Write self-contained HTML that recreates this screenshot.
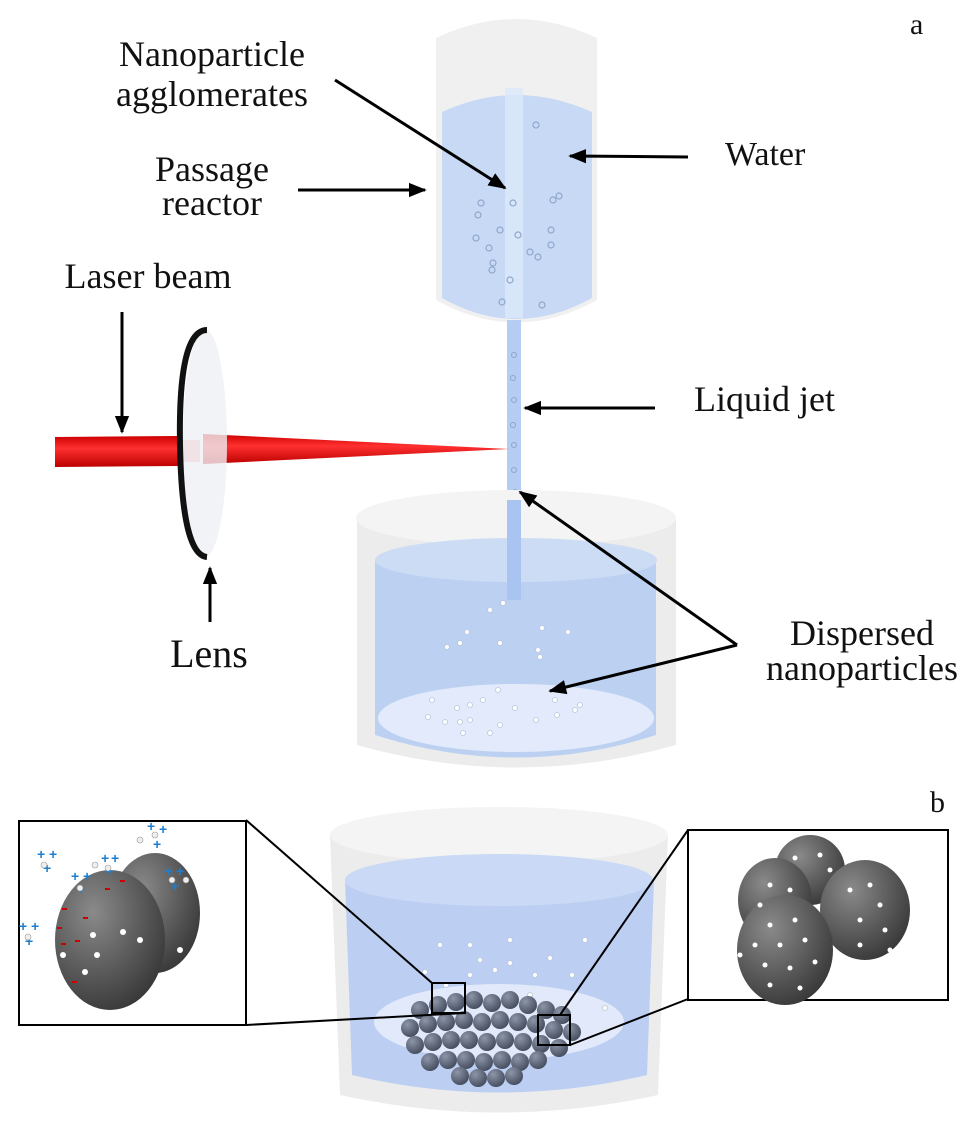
<!DOCTYPE html>
<html><head><meta charset="utf-8"><style>
html,body{margin:0;padding:0;background:#fff;width:980px;height:1124px;overflow:hidden}
svg text{font-family:"Liberation Serif",serif;fill:#111}
svg text.pl{fill:#1e7fd0;font-family:"Liberation Sans",sans-serif;font-size:14px;font-weight:bold}
</style></head><body>
<svg width="980" height="1124" viewBox="0 0 980 1124" xmlns="http://www.w3.org/2000/svg">
<defs>
<marker id="ah" viewBox="0 0 10 10" refX="9" refY="5" markerWidth="6" markerHeight="6" orient="auto"><path d="M0,1 L10,5 L0,9 Z" fill="#000"/></marker>
<linearGradient id="red" x1="0" y1="0" x2="0" y2="1"><stop offset="0" stop-color="#c00"/><stop offset="0.4" stop-color="#ff3030"/><stop offset="1" stop-color="#b00"/></linearGradient>
<radialGradient id="sph" cx="0.35" cy="0.3" r="0.8"><stop offset="0" stop-color="#8a8a8a"/><stop offset="1" stop-color="#333"/></radialGradient>
<radialGradient id="bsph" cx="0.35" cy="0.3" r="0.8"><stop offset="0" stop-color="#8d96a8"/><stop offset="1" stop-color="#3e4658"/></radialGradient>
</defs>

<!-- Reactor -->
<path d="M436,38 Q516,0 597,38 L597,300 Q516,345 436,300 Z" fill="#f0f0f0"/>
<path d="M442,112 Q516,78 592,112 L592,298 Q516,340 442,298 Z" fill="#c8d9f5"/>
<rect x="505" y="88" width="18" height="230" fill="#dce8fa" opacity="0.8"/>
<g fill="none" stroke="#8fa6cc" stroke-width="1.2">
<circle cx="536" cy="125" r="3"/><circle cx="481" cy="203" r="3"/><circle cx="478" cy="215" r="3"/><circle cx="513" cy="203" r="3"/><circle cx="553" cy="200" r="3"/><circle cx="559" cy="196" r="3"/><circle cx="500" cy="230" r="3"/><circle cx="476" cy="238" r="3"/><circle cx="489" cy="248" r="3"/><circle cx="551" cy="230" r="3"/><circle cx="551" cy="245" r="3"/><circle cx="530" cy="252" r="3"/><circle cx="538" cy="257" r="3"/><circle cx="493" cy="263" r="3"/><circle cx="492" cy="270" r="3"/><circle cx="510" cy="280" r="3"/><circle cx="502" cy="302" r="3"/><circle cx="542" cy="305" r="3"/><circle cx="518" cy="235" r="3"/>
</g>
<!-- jet -->
<rect x="507" y="320" width="14" height="280" fill="#b5cdf3"/>
<g fill="none" stroke="#8fa6cc" stroke-width="1"><circle cx="514" cy="355" r="2.5"/><circle cx="513" cy="378" r="2.5"/><circle cx="514" cy="400" r="2.5"/><circle cx="513" cy="425" r="2.5"/><circle cx="514" cy="445" r="2.5"/><circle cx="514" cy="470" r="2.5"/><circle cx="515" cy="492" r="2.5"/><circle cx="515" cy="520" r="2.5"/></g>

<!-- Beaker a -->
<path d="M357,520 L357,745 Q516,790 676,745 L676,520 Z" fill="#ececec"/>
<ellipse cx="516" cy="518" rx="160" ry="28" fill="#f4f4f4"/>
<path d="M375,560 L375,735 Q516,780 656,735 L656,560 Z" fill="#bcd1f2"/>
<ellipse cx="516" cy="560" rx="141" ry="22" fill="#cddcf5"/>
<ellipse cx="516" cy="718" rx="138" ry="34" fill="#e2eafb"/>
<rect x="507" y="500" width="14" height="100" fill="#a9c4f0"/>
<g fill="#fff" stroke="#b9c6dc" stroke-width="0.8">
<circle cx="503" cy="603" r="2.5"/><circle cx="490" cy="610" r="2.5"/><circle cx="467" cy="632" r="2.5"/><circle cx="447" cy="647" r="2.5"/><circle cx="460" cy="643" r="2.5"/><circle cx="500" cy="643" r="2.5"/><circle cx="538" cy="650" r="2.5"/><circle cx="568" cy="632" r="2.5"/><circle cx="542" cy="628" r="2.5"/><circle cx="540" cy="657" r="2.5"/><circle cx="432" cy="700" r="2.5"/><circle cx="457" cy="708" r="2.5"/><circle cx="470" cy="705" r="2.5"/><circle cx="483" cy="700" r="2.5"/><circle cx="498" cy="690" r="2.5"/><circle cx="515" cy="708" r="2.5"/><circle cx="555" cy="700" r="2.5"/><circle cx="575" cy="710" r="2.5"/><circle cx="428" cy="717" r="2.5"/><circle cx="445" cy="722" r="2.5"/><circle cx="460" cy="722" r="2.5"/><circle cx="470" cy="720" r="2.5"/><circle cx="500" cy="725" r="2.5"/><circle cx="536" cy="720" r="2.5"/><circle cx="557" cy="715" r="2.5"/><circle cx="580" cy="705" r="2.5"/><circle cx="490" cy="733" r="2.5"/><circle cx="463" cy="733" r="2.5"/>
</g>

<!-- Laser -->
<path d="M55,437 L178,436 L178,466 L55,467 Z" fill="url(#red)"/>
<path d="M180,440 L200,440 L200,462 L180,462 Z" fill="#ff7070" opacity="0.6"/>
<path d="M203,434 L510,449 L203,464 Z" fill="url(#red)"/>
<!-- Lens -->
<ellipse cx="205" cy="443" rx="22" ry="114" fill="#eef0f4" opacity="0.8"/>
<path d="M207,330 Q178,330 180,445 Q182,555 207,557" fill="none" stroke="#111" stroke-width="6"/>

<!-- Labels a -->
<text x="910" y="34" font-size="30">a</text>
<text x="212" y="66" font-size="36" text-anchor="middle">Nanoparticle</text>
<text x="212" y="106" font-size="36" text-anchor="middle">agglomerates</text>
<text x="212" y="181" font-size="36" text-anchor="middle">Passage</text>
<text x="212" y="215" font-size="36" text-anchor="middle">reactor</text>
<text x="725" y="165" font-size="34">Water</text>
<text x="148" y="288" font-size="36" text-anchor="middle">Laser beam</text>
<text x="694" y="411" font-size="36">Liquid jet</text>
<text x="209" y="667" font-size="40" text-anchor="middle">Lens</text>
<text x="862" y="645" font-size="36" text-anchor="middle">Dispersed</text>
<text x="862" y="680" font-size="36" text-anchor="middle">nanoparticles</text>

<g stroke="#000" stroke-width="3" marker-end="url(#ah)" fill="none">
<line x1="335" y1="80" x2="505" y2="188"/>
<line x1="298" y1="190" x2="425" y2="190"/>
<line x1="688" y1="157" x2="570" y2="156"/>
<line x1="122" y1="312" x2="122" y2="432"/>
<line x1="655" y1="408" x2="525" y2="408"/>
<line x1="210" y1="622" x2="210" y2="568"/>
<line x1="737" y1="645" x2="520" y2="492"/>
<line x1="737" y1="645" x2="550" y2="691"/>
</g>

<!-- Part b -->
<text x="930" y="812" font-size="30">b</text>
<path d="M330,835 L340,1095 Q500,1130 658,1095 L668,835 Z" fill="#ececec"/>
<ellipse cx="499" cy="835" rx="169" ry="28" fill="#f4f4f4"/>
<path d="M345,880 L352,1075 Q500,1110 647,1075 L654,880 Z" fill="#bccff2"/>
<ellipse cx="499" cy="880" rx="154" ry="26" fill="#cad9f5"/>
<ellipse cx="499" cy="1022" rx="125" ry="38" fill="#e1e9fa"/>
<g fill="#fff" stroke="#b9c6dc" stroke-width="0.8">
<circle cx="440" cy="945" r="2.5"/><circle cx="470" cy="945" r="2.5"/><circle cx="510" cy="940" r="2.5"/><circle cx="480" cy="960" r="2.5"/><circle cx="510" cy="963" r="2.5"/><circle cx="550" cy="958" r="2.5"/><circle cx="425" cy="972" r="2.5"/><circle cx="470" cy="975" r="2.5"/><circle cx="495" cy="970" r="2.5"/><circle cx="535" cy="975" r="2.5"/><circle cx="572" cy="975" r="2.5"/><circle cx="585" cy="940" r="2.5"/><circle cx="446" cy="985" r="2.5"/><circle cx="530" cy="995" r="2.5"/><circle cx="605" cy="1008" r="2.5"/>
</g>
<g fill="url(#bsph)">
<circle cx="420" cy="1010" r="9"/><circle cx="438" cy="1005" r="9"/><circle cx="456" cy="1002" r="9"/><circle cx="474" cy="1000" r="9"/><circle cx="492" cy="1003" r="9"/><circle cx="510" cy="1000" r="9"/><circle cx="528" cy="1005" r="9"/><circle cx="546" cy="1010" r="9"/><circle cx="562" cy="1015" r="9"/>
<circle cx="410" cy="1028" r="9"/><circle cx="428" cy="1024" r="9"/><circle cx="446" cy="1022" r="9"/><circle cx="464" cy="1020" r="9"/><circle cx="482" cy="1022" r="9"/><circle cx="500" cy="1020" r="9"/><circle cx="518" cy="1022" r="9"/><circle cx="536" cy="1024" r="9"/><circle cx="554" cy="1030" r="9"/><circle cx="572" cy="1032" r="9"/>
<circle cx="415" cy="1045" r="9"/><circle cx="433" cy="1042" r="9"/><circle cx="451" cy="1040" r="9"/><circle cx="469" cy="1040" r="9"/><circle cx="487" cy="1042" r="9"/><circle cx="505" cy="1040" r="9"/><circle cx="523" cy="1042" r="9"/><circle cx="541" cy="1044" r="9"/><circle cx="559" cy="1048" r="9"/>
<circle cx="430" cy="1062" r="9"/><circle cx="448" cy="1060" r="9"/><circle cx="466" cy="1060" r="9"/><circle cx="484" cy="1062" r="9"/><circle cx="502" cy="1060" r="9"/><circle cx="520" cy="1062" r="9"/><circle cx="538" cy="1060" r="9"/>
<circle cx="460" cy="1076" r="9"/><circle cx="478" cy="1078" r="9"/><circle cx="496" cy="1078" r="9"/><circle cx="514" cy="1076" r="9"/>
</g>
<g fill="none" stroke="#000" stroke-width="2">
<rect x="432" y="983" width="33" height="30"/>
<rect x="538" y="1015" width="32" height="30"/>
<line x1="246" y1="820" x2="432" y2="983"/>
<line x1="246" y1="1025" x2="465" y2="1013"/>
<line x1="688" y1="830" x2="560" y2="1015"/>
<line x1="688" y1="999" x2="570" y2="1045"/>
</g>
<rect x="19" y="821" width="227" height="204" fill="#fff" stroke="#000" stroke-width="2"/>
<rect x="688" y="830" width="260" height="170" fill="#fff" stroke="#000" stroke-width="2"/>
<!-- left inset -->
<ellipse cx="155" cy="913" rx="45" ry="60" fill="url(#sph)"/>
<ellipse cx="110" cy="940" rx="55" ry="70" fill="url(#sph)"/>
<g fill="#fff"><circle cx="93" cy="935" r="3"/><circle cx="63" cy="955" r="3"/><circle cx="123" cy="932" r="3"/><circle cx="85" cy="972" r="3"/><circle cx="50" cy="943" r="3"/><circle cx="140" cy="940" r="3"/><circle cx="180" cy="950" r="3"/><circle cx="97" cy="955" r="3"/></g>
<g fill="#c00"><rect x="62" y="908" width="5" height="2"/><rect x="83" y="917" width="5" height="2"/><rect x="57" y="927" width="5" height="2"/><rect x="61" y="943" width="5" height="2"/><rect x="75" y="940" width="5" height="2"/><rect x="72" y="981" width="5" height="2"/><rect x="120" y="880" width="5" height="2"/><rect x="105" y="888" width="5" height="2"/></g>
<g>
<text class="pl" x="147" y="831">+</text><text class="pl" x="159" y="834">+</text><text class="pl" x="153" y="849">+</text>
<text class="pl" x="37" y="859">+</text><text class="pl" x="49" y="859">+</text><text class="pl" x="43" y="873">+</text>
<text class="pl" x="71" y="881">+</text><text class="pl" x="83" y="881">+</text><text class="pl" x="77" y="894">+</text>
<text class="pl" x="101" y="863">+</text><text class="pl" x="111" y="863">+</text><text class="pl" x="105" y="876">+</text>
<text class="pl" x="164" y="876">+</text><text class="pl" x="176" y="876">+</text><text class="pl" x="171" y="891">+</text>
<text class="pl" x="19" y="931">+</text><text class="pl" x="31" y="931">+</text><text class="pl" x="25" y="946">+</text>
</g>
<g fill="#eee" stroke="#999" stroke-width="0.6"><circle cx="155" cy="835" r="3"/><circle cx="44" cy="865" r="3"/><circle cx="80" cy="888" r="3"/><circle cx="108" cy="868" r="3"/><circle cx="172" cy="880" r="3"/><circle cx="28" cy="937" r="3"/><circle cx="140" cy="840" r="3"/><circle cx="186" cy="880" r="3"/><circle cx="95" cy="865" r="3"/></g>
<!-- right inset -->
<ellipse cx="810" cy="870" rx="35" ry="35" fill="url(#sph)"/>
<ellipse cx="775" cy="900" rx="37" ry="42" fill="url(#sph)"/>
<ellipse cx="865" cy="910" rx="45" ry="50" fill="url(#sph)"/>
<ellipse cx="785" cy="950" rx="48" ry="55" fill="url(#sph)"/>
<g fill="#fff">
<circle cx="795" cy="858" r="2.5"/><circle cx="820" cy="855" r="2.5"/><circle cx="830" cy="870" r="2.5"/><circle cx="770" cy="885" r="2.5"/><circle cx="790" cy="890" r="2.5"/><circle cx="760" cy="905" r="2.5"/><circle cx="850" cy="890" r="2.5"/><circle cx="870" cy="885" r="2.5"/><circle cx="880" cy="905" r="2.5"/><circle cx="860" cy="920" r="2.5"/><circle cx="885" cy="930" r="2.5"/><circle cx="860" cy="945" r="2.5"/><circle cx="890" cy="950" r="2.5"/>
<circle cx="770" cy="925" r="2.5"/><circle cx="795" cy="920" r="2.5"/><circle cx="755" cy="945" r="2.5"/><circle cx="780" cy="945" r="2.5"/><circle cx="805" cy="940" r="2.5"/><circle cx="765" cy="965" r="2.5"/><circle cx="790" cy="968" r="2.5"/><circle cx="815" cy="962" r="2.5"/><circle cx="770" cy="985" r="2.5"/><circle cx="800" cy="988" r="2.5"/><circle cx="740" cy="955" r="2.5"/>
</g>
</svg>
</body></html>
